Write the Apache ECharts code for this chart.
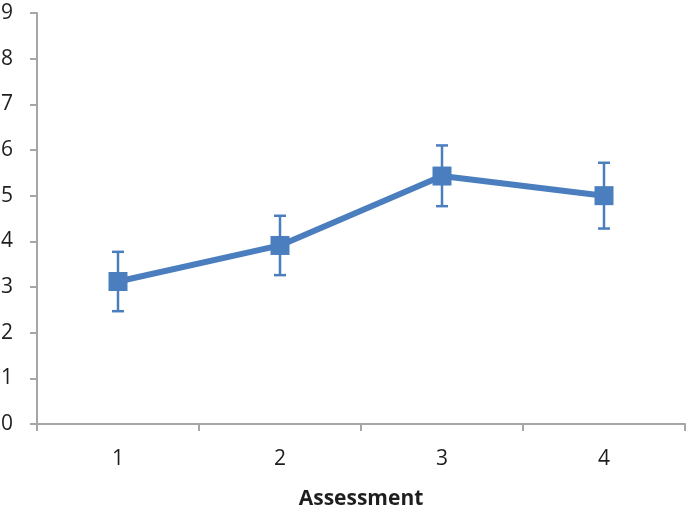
<!DOCTYPE html>
<html>
<head>
<meta charset="utf-8">
<script src="https://cdn.jsdelivr.net/npm/echarts@6/dist/echarts.min.js"></script>
<style>
    html, body { margin: 0; padding: 0; background: #fff; }
    #chart { width: 687px; height: 510px; }
</style>
</head>
<body>
<div id="chart"></div>
<script>
var categories = ['1', '2', '3', '4']
var means = [3.12, 3.91, 5.43, 5.0]
var errLow = [2.47, 3.26, 4.77, 4.28]
var errHigh = [3.77, 4.56, 6.10, 5.72]

var blue = '#4A7EBE'
var axisGray = '#A6A6A6'
var textColor = '#1E1E1E'
var font = '"Open Sans", "Liberation Sans", sans-serif'

var chart = echarts.init(document.getElementById('chart'))

var errData = categories.map(function (c, i) {
    return [i, errLow[i], errHigh[i]]
})

var option = {
    animation: false,
    grid: {
        left: 37,
        right: 2,
        top: 13,
        bottom: 86,
        containLabel: false,
        outerBoundsMode: 'none'
    },
    xAxis: {
        type: 'category',
        data: categories,
        boundaryGap: true,
        name: 'Assessment',
        nameLocation: 'middle',
        nameGap: 65,
        nameTextStyle: {
            fontFamily: font,
            fontWeight: 'bold',
            fontSize: 21,
            color: textColor
        },
        axisLine: { lineStyle: { color: axisGray, width: 2 } },
        axisTick: { show: true, length: 7, lineStyle: { color: axisGray, width: 2 } },
        axisLabel: {
            margin: 25,
            fontFamily: font,
            fontSize: 21,
            color: textColor
        }
    },
    yAxis: {
        type: 'value',
        min: 0,
        max: 9,
        interval: 1,
        axisLine: { show: true, lineStyle: { color: axisGray, width: 2 } },
        axisTick: { show: true, length: 7, lineStyle: { color: axisGray, width: 2 } },
        splitLine: { show: false },
        axisLabel: {
            margin: 24,
            fontFamily: font,
            fontSize: 21,
            color: textColor
        }
    },
    series: [
        {
            type: 'custom',
            z: 1,
            data: errData,
            renderItem: function (params, api) {
                var x = api.value(0)
                var lo = api.coord([x, api.value(1)])
                var hi = api.coord([x, api.value(2)])
                var cap = 6
                var style = { stroke: blue, lineWidth: 2.5 }
                return {
                    type: 'group',
                    children: [
                        { type: 'line', shape: { x1: lo[0], y1: lo[1], x2: hi[0], y2: hi[1] }, style: style },
                        { type: 'line', shape: { x1: lo[0] - cap, y1: lo[1], x2: lo[0] + cap, y2: lo[1] }, style: style },
                        { type: 'line', shape: { x1: hi[0] - cap, y1: hi[1], x2: hi[0] + cap, y2: hi[1] }, style: style }
                    ]
                }
            }
        },
        {
            type: 'line',
            z: 2,
            data: means,
            symbol: 'rect',
            symbolSize: 19,
            lineStyle: { color: blue, width: 6 },
            itemStyle: { color: blue }
        }
    ]
}

chart.setOption(option)
</script>
</body>
</html>
